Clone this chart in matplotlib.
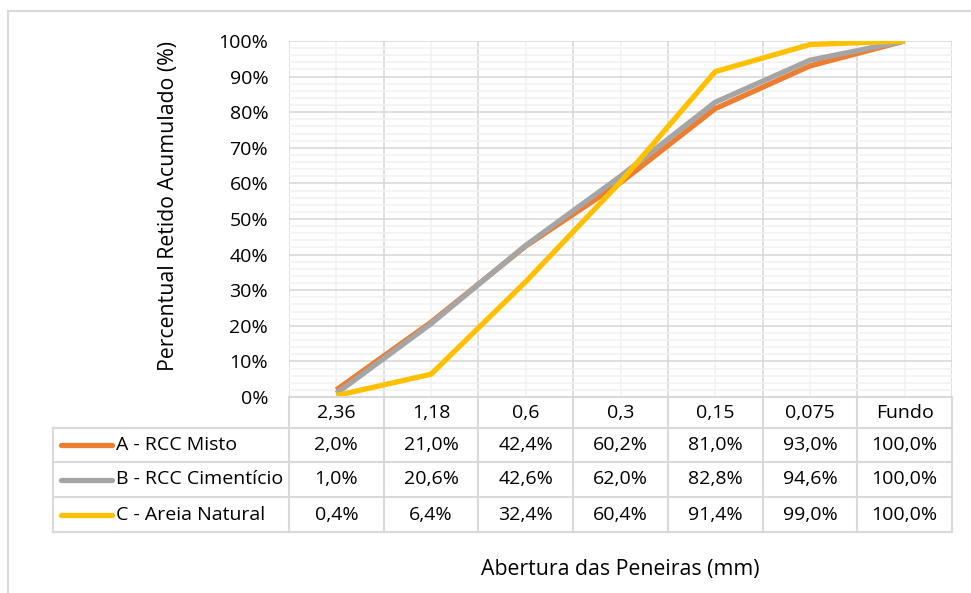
import matplotlib.pyplot as plt
import numpy as np
from matplotlib.transforms import blended_transform_factory
from matplotlib.patches import Rectangle

sieves = ["2,36", "1,18", "0,6", "0,3", "0,15", "0,075", "Fundo"]
series_names = ["A - RCC Misto", "B - RCC Cimentício", "C - Areia Natural"]
misto = [2.0, 21.0, 42.4, 60.2, 81.0, 93.0, 100.0]
cimenticio = [1.0, 20.6, 42.6, 62.0, 82.8, 94.6, 100.0]
areia = [0.4, 6.4, 32.4, 60.4, 91.4, 99.0, 100.0]
colors = ["#ED7D31", "#A5A5A5", "#FFC000"]

plt.rcParams["font.family"] = ["Open Sans", "DejaVu Sans"]
W, H = 971, 593
fs = 14
fs_title = 15.3
fig = plt.figure(figsize=(W / 100, H / 100), dpi=100)

# plot area in pixels
left, right, top, bottom = 289, 952, 41, 397
ax = fig.add_axes([left / W, 1 - bottom / H, (right - left) / W, (bottom - top) / H])

x = np.arange(len(sieves))
for vals, c in zip([misto, cimenticio, areia], colors):
    ax.plot(x, vals, color=c, lw=3.8, solid_capstyle="butt", solid_joinstyle="miter", zorder=3)

ax.set_xlim(-0.5, len(sieves) - 0.5)
ax.set_ylim(0, 100)
ax.set_yticks(np.arange(0, 101, 10))
ax.set_yticklabels([f"{v}%" for v in range(0, 101, 10)], fontsize=fs)
ax.set_yticks(np.arange(0, 101, 2), minor=True)
ax.set_xticks(np.arange(-0.5, len(sieves), 1))
ax.set_xticks(x, minor=True)
ax.set_xticklabels([])
ax.tick_params(axis="both", which="both", length=0)
ax.tick_params(axis="y", pad=15)
ax.grid(which="minor", color="#F2F2F2", lw=1.2, zorder=0)
ax.grid(which="major", color="#D9D9D9", lw=1.2, zorder=1)
for s in ax.spines.values():
    s.set_visible(False)

# outer frame (partially cropped)
fig.patches.append(Rectangle((8 / W, -0.1), 1.2, 1 - 11 / H + 0.1, transform=fig.transFigure,
                             fill=False, ec="#D9D9D9", lw=1.5))

fig.text(168 / W, 1 - 206 / H, "Percentual Retido Acumulado (%)", rotation=90,
         ha="center", va="center", fontsize=fs_title)
fig.text((left + right) / 2 / W, 1 - 570 / H, "Abertura das Peneiras (mm)",
         ha="center", va="center", fontsize=fs_title)

# data table
tr = blended_transform_factory(ax.transData, fig.transFigure)
rows = [397, 428, 462, 497, 532]
gc = "#D9D9D9"
tleft = 53

def fy(p):
    return 1 - p / H

for xb in np.arange(-0.5, len(sieves), 1):
    fig.add_artist(plt.Line2D([xb, xb], [fy(rows[0]), fy(rows[-1])], transform=tr, color=gc, lw=1.5))
fig.add_artist(plt.Line2D([left / W, right / W], [fy(rows[0]), fy(rows[0])], color=gc, lw=1.5))
for r in rows[1:]:
    fig.add_artist(plt.Line2D([tleft / W, right / W], [fy(r), fy(r)], color=gc, lw=1.5))
fig.add_artist(plt.Line2D([tleft / W, tleft / W], [fy(rows[1]), fy(rows[-1])], color=gc, lw=1.5))

for i, lab in enumerate(sieves):
    fig.text(i, fy((rows[0] + rows[1]) / 2), lab, transform=tr, ha="center", va="center", fontsize=fs)

for k, (name, vals, c) in enumerate(zip(series_names, [misto, cimenticio, areia], colors)):
    yc = fy((rows[k + 1] + rows[k + 2]) / 2)
    fig.add_artist(plt.Line2D([61 / W, 112 / W], [yc, yc], color=c, lw=3.8, solid_capstyle="round"))
    fig.text(116 / W, yc, name, ha="left", va="center", fontsize=fs)
    for i, v in enumerate(vals):
        fig.text(i, yc, f"{v:.1f}%".replace(".", ","), transform=tr, ha="center", va="center", fontsize=fs)

fig.savefig("out.png", dpi=100)
